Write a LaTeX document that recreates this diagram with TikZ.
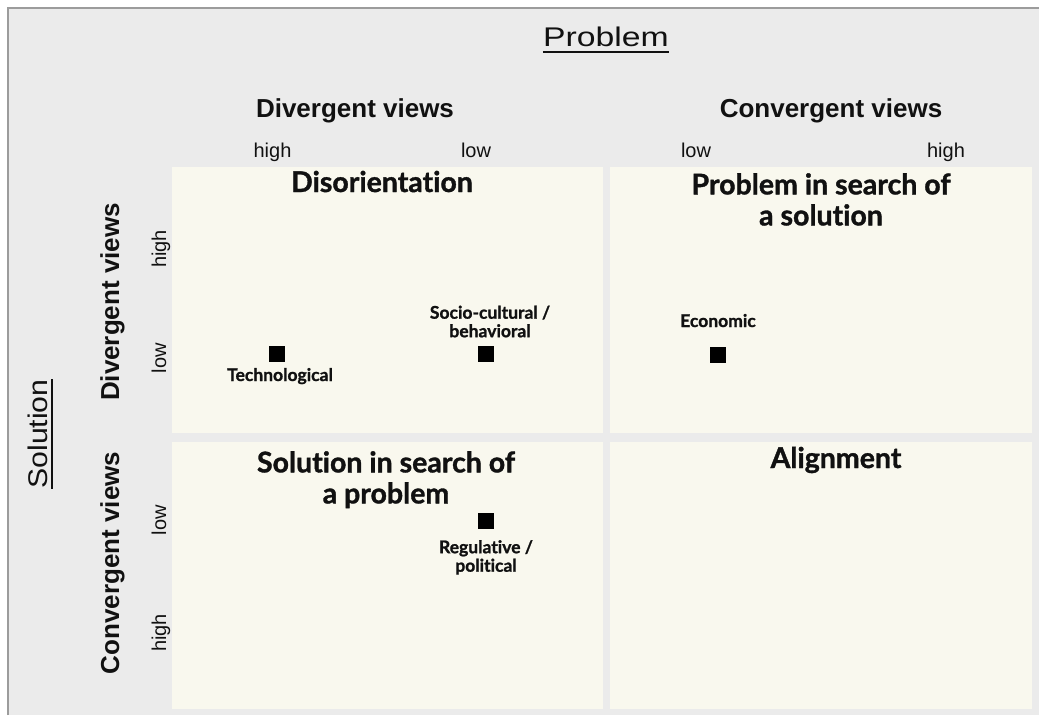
\documentclass[tikz,border=0pt]{standalone}
\usepackage{fontspec}
\setmainfont{Liberation Sans}
\newfontfamily\titlefont{Lato}[Ligatures=NoCommon, BoldFeatures={FakeBold=1.2}]
\definecolor{bggray}{HTML}{EBEBEB}
\definecolor{framegray}{HTML}{9C9C9C}
\definecolor{cream}{HTML}{F9F8EE}
\definecolor{ink}{HTML}{111111}
\begin{document}
\begin{tikzpicture}[x=1pt,y=-1pt,
  quad/.style={fill=cream, draw=none, inner sep=0, anchor=north west},
  axishead/.style={inner sep=0, text=ink, font=\fontsize{26}{30}\selectfont\bfseries},
  level/.style={inner sep=0, text=ink, font=\fontsize{20}{24}\selectfont},
  quadtitle/.style={inner sep=0, text=ink, align=center, font=\titlefont\fontsize{28.5}{31}\selectfont\bfseries},
  itemlabel/.style={inner sep=0, text=ink, align=center, font=\titlefont\fontsize{17.5}{18.5}\selectfont\bfseries},
  marker/.style={fill=black, draw=none, inner sep=0, minimum size=16pt},
  bigtitle/.style={inner sep=0, text=ink, font=\fontsize{27}{32}\selectfont},
  uline/.style={draw=ink, line width=2pt}]
\useasboundingbox (0,0) rectangle (1039,715);
\fill[white] (0,0) rectangle (1039,715);
\fill[bggray] (8,8) rectangle (1039,715);
\draw[framegray, line width=1.5pt] (8,715) -- (8,8) -- (1039,8);

% quadrants
\node[quad, minimum width=431pt, minimum height=266pt] (qtl) at (172,167) {};
\node[quad, minimum width=422pt, minimum height=266pt] (qtr) at (610,167) {};
\node[quad, minimum width=431pt, minimum height=267pt] (qbl) at (172,442) {};
\node[quad, minimum width=422pt, minimum height=267pt] (qbr) at (610,442) {};

% top titles
\node[bigtitle, anchor=base] (prob) at (606,46.7) {\scalebox{1.25}[1]{Problem}};
\draw[uline] ([yshift=-5pt]prob.base west) -- ([yshift=-5pt]prob.base east);
\node[axishead, anchor=base] (pdiv) at (355,117) {Divergent views};
\node[axishead, anchor=base] (pconv) at (831,117) {Convergent views};
\node[level, anchor=base] (ph1) at (272.5,157.5) {high};
\node[level, anchor=base] (pl1) at (476,157.5) {low};
\node[level, anchor=base] (pl2) at (696,157.5) {low};
\node[level, anchor=base] (ph2) at (946,157.5) {high};

% left titles
\node[bigtitle, rotate=90, anchor=base] (sol) at (47,434) {\scalebox{1.12}[1]{Solution}};
\draw[uline] ([xshift=5pt]sol.base west) -- ([xshift=5pt]sol.base east);
\node[axishead, rotate=90, anchor=base] (sdiv) at (119,302) {Divergent views};
\node[axishead, rotate=90, anchor=base] (sconv) at (119,563) {Convergent views};
\node[level, rotate=90, anchor=base] (sh1) at (166,249) {high};
\node[level, rotate=90, anchor=base] (sl1) at (166,358) {low};
\node[level, rotate=90, anchor=base] (sl2) at (166,520) {low};
\node[level, rotate=90, anchor=base] (sh2) at (166,633) {high};

% quadrant titles
\node[quadtitle, anchor=base] (tdis) at (382,192) {Disorientation};
\node[quadtitle, anchor=north] (tprob) at (821,173) {Problem in search of\\a solution};
\node[quadtitle, anchor=north] (tsol) at (386,451) {Solution in search of\\a problem};
\node[quadtitle, anchor=base] (talign) at (836,468) {Alignment};

% items
\node[marker] (mtech) at (277,354) {};
\node[itemlabel, anchor=base] (ltech) at (280,381) {Technological};
\node[marker] (msoc) at (486,354) {};
\node[itemlabel, anchor=north] (lsoc) at (490,305.5) {Socio-cultural /\\behavioral};
\node[marker] (meco) at (718,355) {};
\node[itemlabel, anchor=base] (leco) at (718,327) {Economic};
\node[marker] (mreg) at (486,520.5) {};
\node[itemlabel, anchor=north] (lreg) at (486,540) {Regulative /\\political};
\end{tikzpicture}
\end{document}
